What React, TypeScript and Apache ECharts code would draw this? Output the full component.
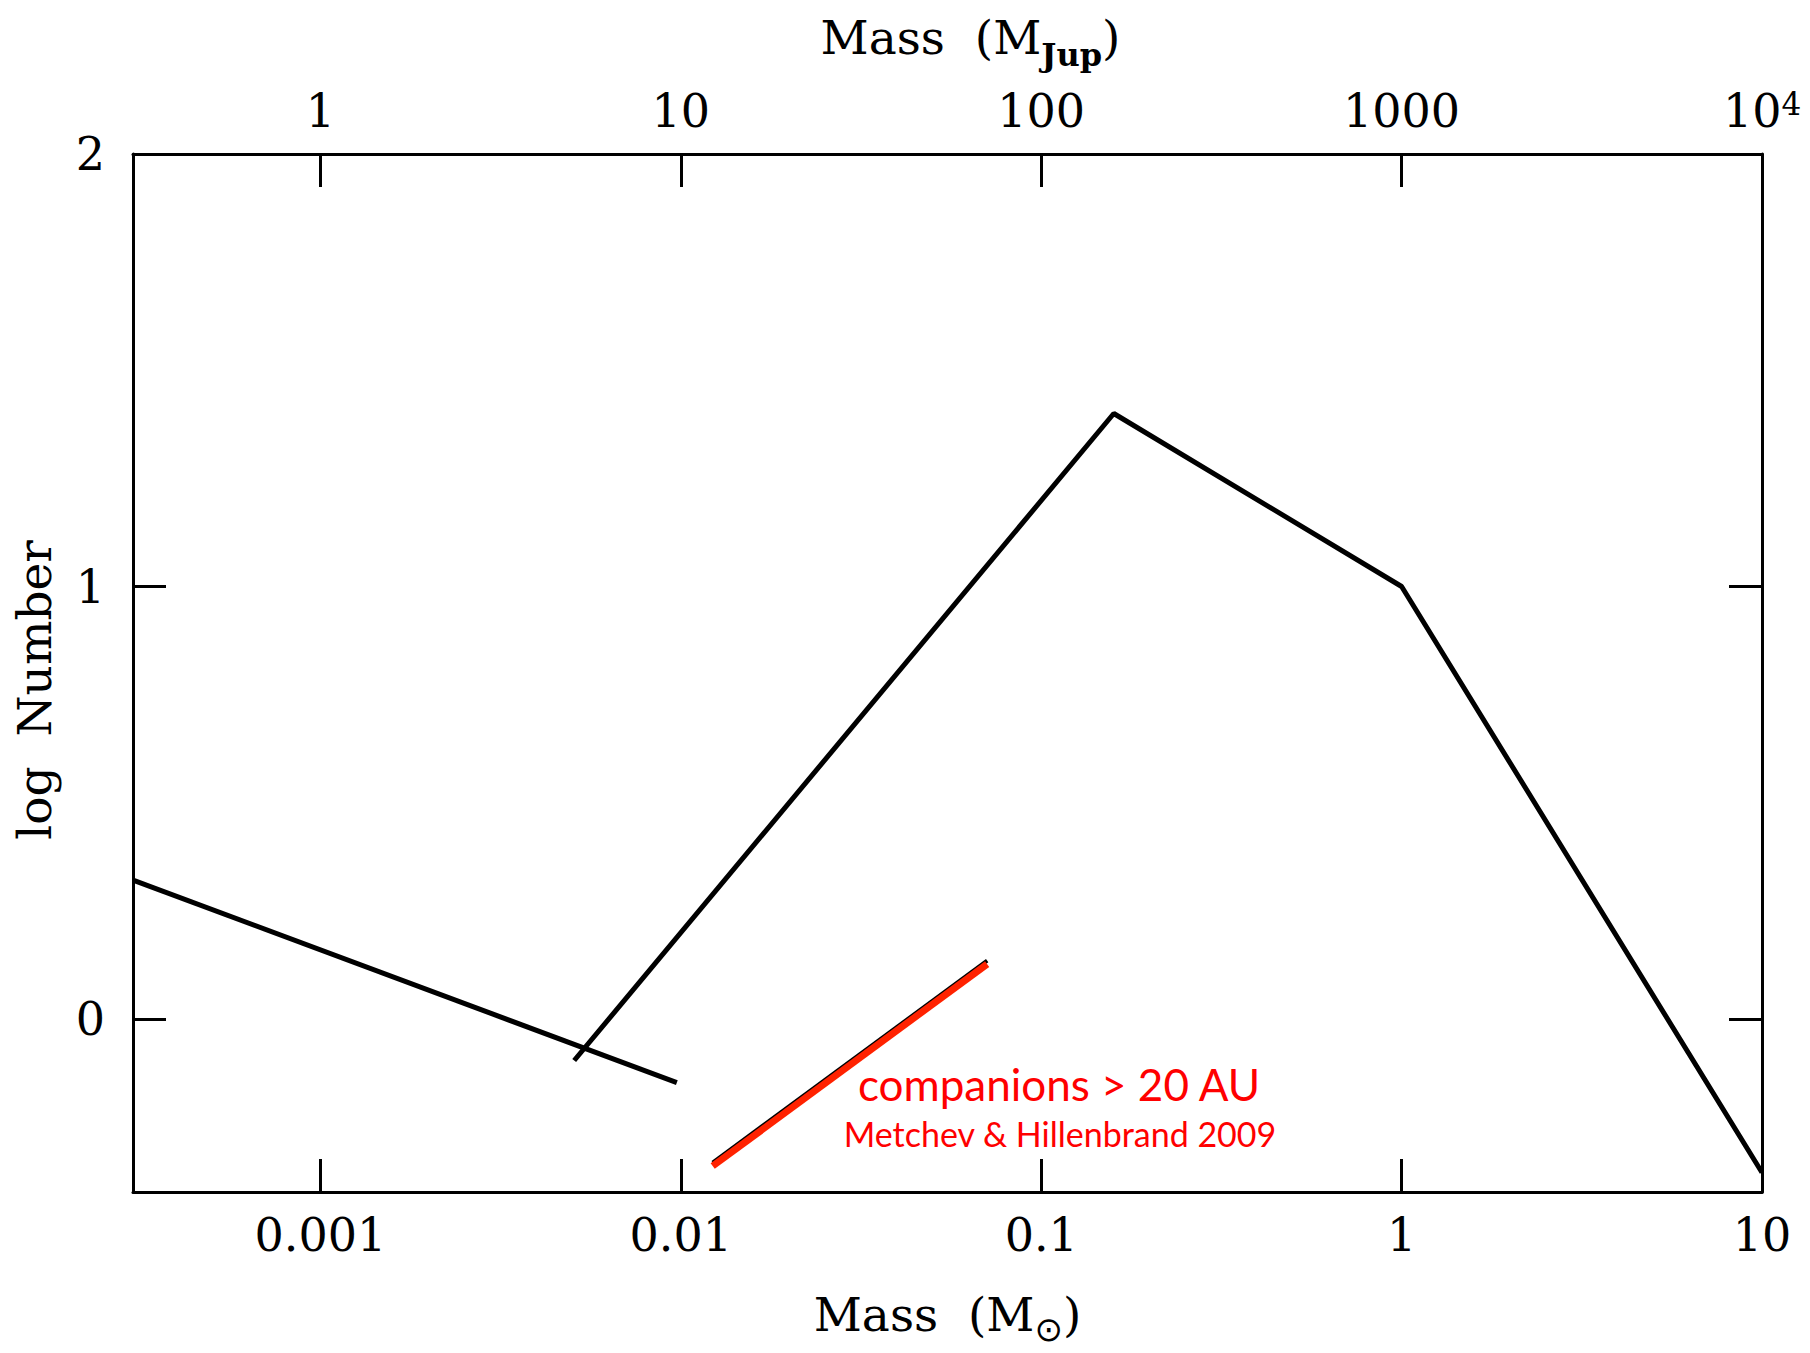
import React, { useEffect, useRef } from "react";
import * as echarts from "echarts";

// Axis ranges (x axis in log10 of mass in solar masses)
const X_MIN_LOG = -3.52;
const X_MAX_LOG = 1;
const Y_MIN = -0.4;
const Y_MAX = 2;

// Tick definitions
const bottomTickMasses = [0.001, 0.01, 0.1, 1, 10];
const bottomTickLabels = ["0.001", "0.01", "0.1", "1", "10"];
const topTickLabels = ["1", "10", "100", "1000", "10{sup|4}"];
const yTickValues = [0, 1, 2];
const yTickLabels = ["0", "1", "2"];

// Data: mass in solar masses, log Number
const lowMassMsun = [0.000302, 0.00975];
const lowMassLogN = [0.321, -0.147];
const mainMsun = [0.00506, 0.159, 1.0, 10.0];
const mainLogN = [-0.096, 1.4, 1.0, -0.355];
const compMsun = [0.01226, 0.0708];
const compLogN = [-0.34, 0.127];
const compShadowLogN = [-0.332, 0.135];

const SERIF = "DejaVu Serif";

function pairs(xs: number[], ys: number[]) {
  return xs.map((m, i) => [Math.log10(m), ys[i]]);
}

const tickLogs = bottomTickMasses.map((m) => Math.log10(m));

function idxOf(v: number) {
  return Math.round(v - tickLogs[0]);
}

export default function App() {
  const ref = useRef<HTMLDivElement>(null);

  useEffect(() => {
    document.body.style.margin = "0";
    if (!ref.current) return;
    const chart = echarts.init(ref.current, undefined, { renderer: "svg" });

    const axisLineStyle = { color: "#000", width: 3 };
    const tickCommon = {
      show: true,
      inside: true,
      length: 33,
      lineStyle: { color: "#000", width: 3 },
    };

    const option: any = {
      animation: false,
      backgroundColor: "#fff",
      grid: {
        left: 133,
        right: 48,
        top: 154,
        bottom: 161,
        containLabel: false,
        outerBoundsMode: "none",
      },
      xAxis: [
        {
          type: "value",
          position: "bottom",
          min: X_MIN_LOG,
          max: X_MAX_LOG,
          axisLine: { show: true, onZero: false, lineStyle: axisLineStyle },
          axisTick: { ...tickCommon, customValues: tickLogs },
          splitLine: { show: false },
          axisLabel: {
            customValues: tickLogs,
            showMinLabel: true,
            showMaxLabel: true,
            margin: 20,
            fontFamily: SERIF,
            fontSize: 46,
            color: "#000",
            formatter: (v: number) => bottomTickLabels[idxOf(v)] ?? "",
          },
          name: "Mass  (M{sub|⊙})",
          nameLocation: "middle",
          nameGap: 90,
          nameMoveOverlap: false,
          nameTextStyle: {
            fontFamily: SERIF,
            fontSize: 47,
            color: "#000",
            lineHeight: 64,
            rich: {
              sub: {
                fontFamily: "DejaVu Sans",
                fontSize: 34,
                lineHeight: 22,
                verticalAlign: "bottom",
                color: "#000",
              },
            },
          },
        },
        {
          type: "value",
          position: "top",
          min: X_MIN_LOG,
          max: X_MAX_LOG,
          axisLine: { show: true, onZero: false, lineStyle: axisLineStyle },
          axisTick: { ...tickCommon, customValues: tickLogs },
          splitLine: { show: false },
          axisLabel: {
            customValues: tickLogs,
            showMinLabel: true,
            showMaxLabel: true,
            margin: 20,
            fontFamily: SERIF,
            fontSize: 46,
            color: "#000",
            lineHeight: 46,
            formatter: (v: number) => topTickLabels[idxOf(v)] ?? "",
            rich: {
              sup: {
                fontFamily: SERIF,
                fontSize: 31,
                lineHeight: 30,
                verticalAlign: "top",
                color: "#000",
              },
            },
          },
          name: "Mass  (M{sub|Jup})",
          nameLocation: "middle",
          nameGap: 83,
          nameMoveOverlap: false,
          nameTextStyle: {
            fontFamily: SERIF,
            fontSize: 47,
            color: "#000",
            lineHeight: 68,
            padding: [0, 0, 0, 46],
            rich: {
              sub: {
                fontFamily: SERIF,
                fontSize: 32,
                fontWeight: "bold",
                lineHeight: 22,
                verticalAlign: "bottom",
                color: "#000",
              },
            },
          },
        },
      ],
      yAxis: [
        {
          type: "value",
          position: "left",
          min: Y_MIN,
          max: Y_MAX,
          axisLine: { show: true, onZero: false, lineStyle: axisLineStyle },
          axisTick: { ...tickCommon, customValues: yTickValues },
          splitLine: { show: false },
          axisLabel: {
            customValues: yTickValues,
            showMinLabel: true,
            showMaxLabel: true,
            margin: 28,
            fontFamily: SERIF,
            fontSize: 46,
            color: "#000",
            formatter: (v: number) => yTickLabels[Math.round(v)] ?? "",
          },
          name: "log  Number",
          nameLocation: "middle",
          nameGap: 71,
          nameMoveOverlap: false,
          nameTextStyle: {
            fontFamily: SERIF,
            fontSize: 47,
            color: "#000",
            lineHeight: 56,
            padding: [0, 34, 0, 0],
          },
        },
        {
          type: "value",
          position: "right",
          min: Y_MIN,
          max: Y_MAX,
          axisLine: { show: true, onZero: false, lineStyle: axisLineStyle },
          axisTick: { ...tickCommon, customValues: yTickValues },
          splitLine: { show: false },
          axisLabel: { show: false },
        },
      ],
      series: [
        {
          type: "line",
          name: "low mass",
          xAxisIndex: 0,
          yAxisIndex: 0,
          symbol: "none",
          data: pairs(lowMassMsun, lowMassLogN),
          lineStyle: { color: "#000", width: 5 },
          z: 3,
        },
        {
          type: "line",
          name: "main",
          xAxisIndex: 0,
          yAxisIndex: 0,
          symbol: "none",
          data: pairs(mainMsun, mainLogN),
          lineStyle: { color: "#000", width: 5 },
          z: 3,
        },
        {
          type: "line",
          name: "companions shadow",
          xAxisIndex: 0,
          yAxisIndex: 0,
          symbol: "none",
          data: pairs(compMsun, compShadowLogN),
          lineStyle: { color: "#000", width: 4 },
          z: 4,
        },
        {
          type: "line",
          name: "companions > 20 AU",
          xAxisIndex: 0,
          yAxisIndex: 0,
          symbol: "none",
          data: pairs(compMsun, compLogN),
          lineStyle: { color: "#ff2200", width: 7 },
          z: 5,
        },
      ],
      graphic: [
        {
          type: "text",
          x: 1059,
          y: 1084,
          z: 10,
          style: {
            text: "companions > 20 AU",
            fill: "#ff0000",
            fontFamily: "Lato",
            fontSize: 44,
            align: "center",
            verticalAlign: "middle",
          },
        },
        {
          type: "text",
          x: 1060,
          y: 1133,
          z: 10,
          style: {
            text: "Metchev & Hillenbrand 2009",
            fill: "#ff0000",
            fontFamily: "Lato",
            fontSize: 34,
            align: "center",
            verticalAlign: "middle",
          },
        },
      ],
    };

    chart.setOption(option);
    return () => chart.dispose();
  }, []);

  return (
    <div
      ref={ref}
      style={{ width: 1810, height: 1353, position: "absolute", left: 0, top: 0 }}
    />
  );
}
